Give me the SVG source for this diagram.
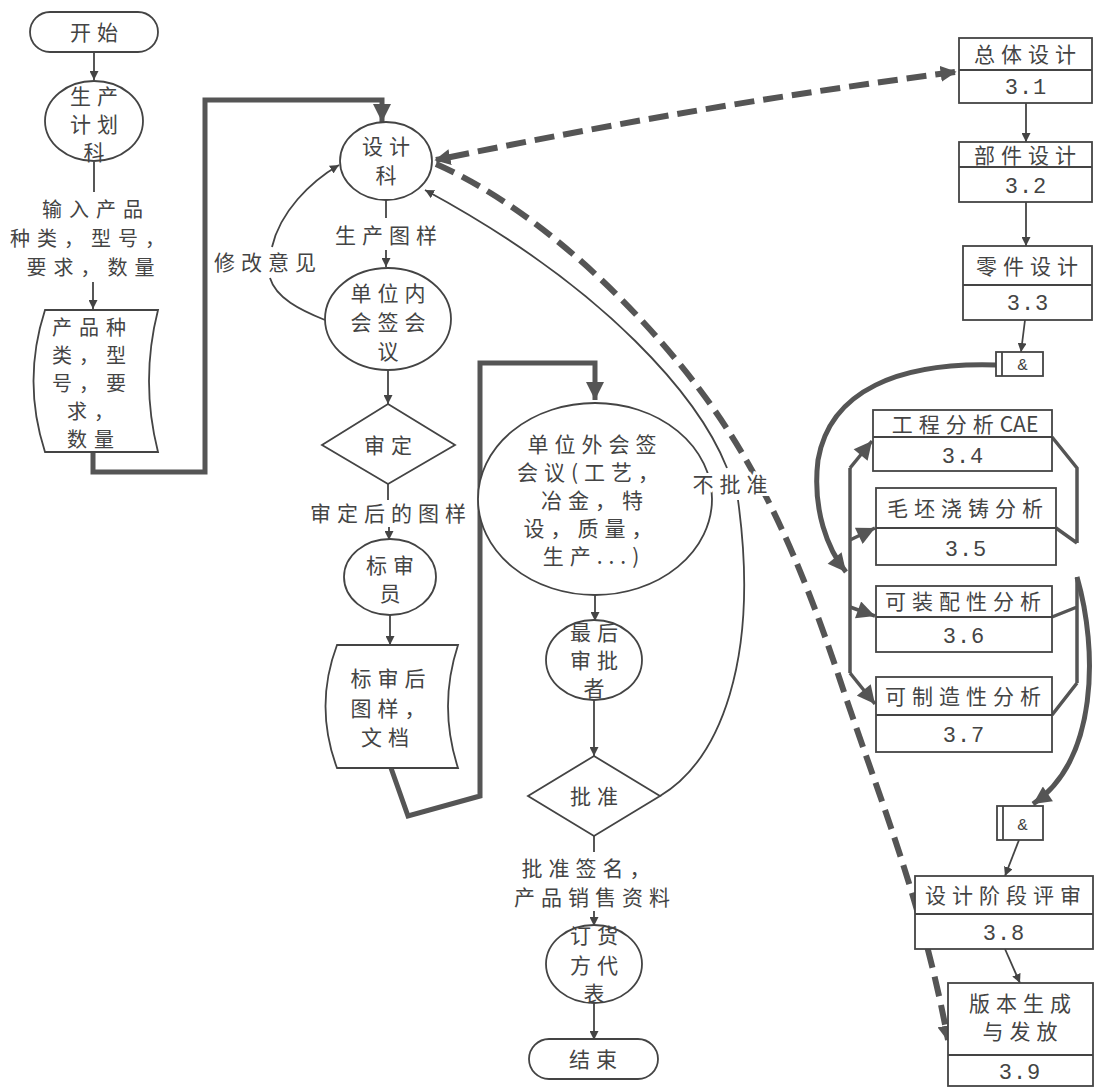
<svg xmlns="http://www.w3.org/2000/svg" width="1097" height="1088" viewBox="0 0 1097 1088">
<style>
.t{font-family:"Noto Sans CJK SC","Noto Sans CJK JP",sans-serif;font-size:21px;fill:#444;letter-spacing:6px;text-anchor:middle}
.tl{font-family:"Noto Sans CJK SC","Noto Sans CJK JP",sans-serif;font-size:20px;fill:#444;letter-spacing:7px}
.n{font-family:"Liberation Mono",monospace;font-size:22px;fill:#444;text-anchor:middle;letter-spacing:1px}
.s{fill:#fff;stroke:#444;stroke-width:1.8}
.c{fill:none;stroke:#444;stroke-width:1.8}
.k{fill:none;stroke:#555;stroke-width:5}
.m{fill:none;stroke:#555;stroke-width:3.5}
.d{fill:none;stroke:#555;stroke-width:6;stroke-dasharray:20 9}
.h{paint-order:stroke;stroke:#fff;stroke-width:6px}
</style>
<defs>
<marker id="a" viewBox="0 0 10 10" refX="10" refY="5" markerWidth="9" markerHeight="9" markerUnits="userSpaceOnUse" orient="auto"><path d="M0,0 L10,5 L0,10 z" fill="#444"/></marker>
<marker id="b" viewBox="0 0 10 10" refX="10" refY="5" markerWidth="20" markerHeight="18" markerUnits="userSpaceOnUse" orient="auto"><path d="M0,0 L10,5 L0,10 z" fill="#555"/></marker>
<marker id="dd" viewBox="0 0 10 10" refX="9" refY="5" markerWidth="16" markerHeight="16" markerUnits="userSpaceOnUse" orient="auto-start-reverse"><path d="M0,0 L10,5 L0,10 z" fill="#555"/></marker>
</defs>

<g id="connectors">
<path class="c" d="M94,52 V80" marker-end="url(#a)"/>
<path class="c" d="M94,162 V192"/>
<path class="c" d="M93,282 V309" marker-end="url(#a)"/>
<path class="k" d="M93,452 V472 H205 V100 H382 V122" marker-end="url(#b)"/>
<path class="c" d="M386,200 V218"/>
<path class="c" d="M386,250 V267" marker-end="url(#a)"/>
<path class="c" d="M325,320 C300,310 276,298 270,278"/>
<path class="c" d="M272,247 C280,212 310,182 339,165" marker-end="url(#a)"/>
<path class="c" d="M388,370 V404" marker-end="url(#a)"/>
<path class="c" d="M388,484 V500"/>
<path class="c" d="M389,527 V540" marker-end="url(#a)"/>
<path class="c" d="M390,615 V645" marker-end="url(#a)"/>
<path class="k" d="M391,768 L408,816 L480,796 V363 H595 V400" marker-end="url(#b)"/>
<path class="c" d="M595,595 V621" marker-end="url(#a)"/>
<path class="c" d="M594,700 V756" marker-end="url(#a)"/>
<path class="c" d="M594,836 V852"/>
<path class="c" d="M594,911 V926" marker-end="url(#a)"/>
<path class="c" d="M594,1003 V1040" marker-end="url(#a)"/>
<path class="c" d="M660,796 C720,760 760,660 738,500"/>
<path class="c" d="M727,468 C700,400 610,290 425,190" marker-end="url(#a)"/>
<path class="d" d="M955,72 Q700,105 436,160" marker-start="url(#dd)" marker-end="url(#dd)"/>
<path class="d" d="M436,164 C540,210 640,310 700,390 S800,560 840,680 S922,900 948,1040" marker-end="url(#dd)"/>
<path class="c" d="M1026,103 V142" marker-end="url(#a)"/>
<path class="c" d="M1026,202 V246" marker-end="url(#a)"/>
<path class="c" d="M1025,320 L1021,352" marker-end="url(#a)"/>
<path class="k" d="M996,365 C900,362 830,390 818,460 C812,510 828,550 846,572" marker-end="url(#b)"/>
<path class="m" d="M850,468 V673"/>
<path class="m" d="M850,468 L872,441" marker-end="url(#b)"/>
<path class="m" d="M850,540 L875,528" marker-end="url(#b)"/>
<path class="m" d="M850,607 L875,616" marker-end="url(#b)"/>
<path class="m" d="M850,673 L875,704" marker-end="url(#b)"/>
<path class="m" d="M1052,437 L1077,468 V543 M1056,528 L1077,543 M1077,577 V683 M1052,617 L1077,607 M1052,715 L1077,683"/>
<path class="k" d="M1077,577 C1098,650 1098,760 1033,804" marker-end="url(#b)"/>
<path class="c" d="M1019,840 L1005,876" marker-end="url(#a)"/>
<path class="c" d="M1005,949 L1020,983" marker-end="url(#a)"/>
</g>

<g id="start"><rect class="s" x="30" y="12" width="128" height="40" rx="20"/><text class="t" x="97" y="40">开始</text></g>
<g id="plan"><ellipse class="s" cx="94" cy="121" rx="49" ry="40"/><text class="t"><tspan x="97" y="104">生产</tspan><tspan x="97" y="132">计划</tspan><tspan x="97" y="160">科</tspan></text></g>
<g id="input-label"><text class="t" style="font-size:20px;letter-spacing:7px"><tspan x="96" y="217">输入产品</tspan><tspan x="91" y="246">种类，型号，</tspan><tspan x="94" y="275">要求，数量</tspan></text></g>
<g id="doc1"><path class="s" d="M45,310 H158 Q140,381 158,452 H45 Q22,381 45,310 Z"/><text class="tl"><tspan x="52" y="335">产品种</tspan><tspan x="52" y="363">类，型</tspan><tspan x="52" y="391">号，要</tspan><tspan x="67" y="419">求，</tspan><tspan x="67" y="447">数量</tspan></text></g>
<g id="design"><ellipse class="s" cx="386" cy="161" rx="46" ry="39"/><text class="t"><tspan x="389" y="154">设计</tspan><tspan x="389" y="183">科</tspan></text></g>
<g id="lbl-drawing"><text class="t" x="389" y="243">生产图样</text></g>
<g id="lbl-modify"><text class="t" x="268" y="270">修改意见</text></g>
<g id="inner-meeting"><ellipse class="s" cx="388" cy="319" rx="63" ry="51"/><text class="t"><tspan x="391" y="301">单位内</tspan><tspan x="391" y="330">会签会</tspan><tspan x="391" y="359">议</tspan></text></g>
<g id="approve1"><polygon class="s" points="388,404 455,445 388,484 322,445"/><text class="t" x="391" y="453">审定</text></g>
<g id="lbl-approved"><text class="t" x="391" y="521">审定后的图样</text></g>
<g id="checker"><ellipse class="s" cx="390" cy="577" rx="46" ry="38"/><text class="t"><tspan x="393" y="573">标审</tspan><tspan x="393" y="601">员</tspan></text></g>
<g id="doc2"><path class="s" d="M337,645 H458 Q438,706 458,768 H337 Q314,706 337,645 Z"/><text class="t"><tspan x="391" y="686">标审后</tspan><tspan x="391" y="716">图样，</tspan><tspan x="388" y="745">文档</tspan></text></g>
<g id="outer-meeting"><ellipse class="s" cx="595" cy="499" rx="117" ry="96"/><text class="t"><tspan x="595" y="452">单位外会签</tspan><tspan x="591" y="480">会议(工艺，</tspan><tspan x="595" y="508">冶金，特</tspan><tspan x="591" y="536">设，质量，</tspan><tspan x="594" y="564">生产...)</tspan></text></g>
<g id="lbl-reject"><text class="t h" x="733" y="492">不批准</text></g>
<g id="final"><ellipse class="s" cx="594" cy="660" rx="48" ry="40"/><text class="t"><tspan x="597" y="640">最后</tspan><tspan x="597" y="668">审批</tspan><tspan x="597" y="696">者</tspan></text></g>
<g id="approve2"><polygon class="s" points="594,756 660,796 594,836 528,796"/><text class="t" x="597" y="804">批准</text></g>
<g id="lbl-sign"><text class="t"><tspan x="589" y="876">批准签名，</tspan><tspan x="595" y="905">产品销售资料</tspan></text></g>
<g id="customer"><ellipse class="s" cx="594" cy="964" rx="48" ry="39"/><text class="t"><tspan x="597" y="943">订货</tspan><tspan x="597" y="973">方代</tspan><tspan x="597" y="1001">表</tspan></text></g>
<g id="end"><rect class="s" x="529" y="1039" width="129" height="40" rx="20"/><text class="t" x="596" y="1067">结束</text></g>

<g id="b31"><rect class="s" x="959" y="38" width="133" height="65"/><line class="c" x1="959" y1="70" x2="1092" y2="70"/><text class="t" x="1028" y="62">总体设计</text><text class="n" x="1026" y="94">3.1</text></g>
<g id="b32"><rect class="s" x="959" y="142" width="133" height="60"/><line class="c" x1="959" y1="167" x2="1092" y2="167"/><text class="t" x="1028" y="163">部件设计</text><text class="n" x="1026" y="193">3.2</text></g>
<g id="b33"><rect class="s" x="963" y="246" width="129" height="74"/><line class="c" x1="963" y1="285" x2="1092" y2="285"/><text class="t" x="1030" y="274">零件设计</text><text class="n" x="1028" y="310">3.3</text></g>
<g id="and1"><rect class="s" x="996" y="352" width="47" height="24"/><line class="c" x1="1002" y1="352" x2="1002" y2="376"/><text class="n" style="font-size:17px" x="1023" y="370">&amp;</text></g>
<g id="b34"><rect class="s" x="873" y="410" width="179" height="61"/><line class="c" x1="873" y1="437" x2="1052" y2="437"/><text class="t" x="965" y="432">工程分析<tspan style="letter-spacing:0">CAE</tspan></text><text class="n" x="963" y="463">3.4</text></g>
<g id="b35"><rect class="s" x="876" y="488" width="180" height="77"/><line class="c" x1="876" y1="528" x2="1056" y2="528"/><text class="t" x="968" y="516">毛坯浇铸分析</text><text class="n" x="966" y="556">3.5</text></g>
<g id="b36"><rect class="s" x="876" y="586" width="176" height="66"/><line class="c" x1="876" y1="617" x2="1052" y2="617"/><text class="t" x="966" y="609">可装配性分析</text><text class="n" x="964" y="643">3.6</text></g>
<g id="b37"><rect class="s" x="876" y="677" width="176" height="75"/><line class="c" x1="876" y1="715" x2="1052" y2="715"/><text class="t" x="966" y="704">可制造性分析</text><text class="n" x="964" y="742">3.7</text></g>
<g id="and2"><rect class="s" x="997" y="806" width="46" height="34"/><line class="c" x1="1003" y1="806" x2="1003" y2="840"/><text class="n" style="font-size:17px" x="1023" y="830">&amp;</text></g>
<g id="b38"><rect class="s" x="915" y="876" width="178" height="73"/><line class="c" x1="915" y1="914" x2="1093" y2="914"/><text class="t" x="1006" y="903">设计阶段评审</text><text class="n" x="1004" y="940">3.8</text></g>
<g id="b39"><rect class="s" x="948" y="983" width="145" height="103"/><line class="c" x1="948" y1="1055" x2="1093" y2="1055"/><text class="t"><tspan x="1023" y="1011">版本生成</tspan><tspan x="1023" y="1039">与发放</tspan></text><text class="n" x="1020" y="1079">3.9</text></g>
</svg>
